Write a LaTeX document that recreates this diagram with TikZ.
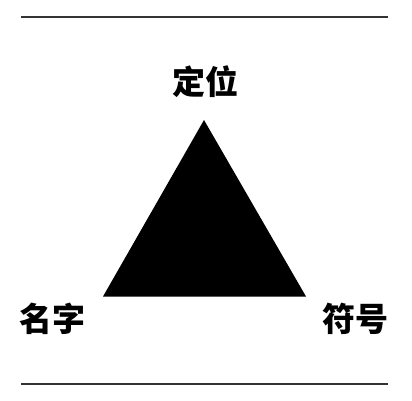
\documentclass[tikz,border=0pt]{standalone}
\usepackage{fontspec}
\newfontfamily\cjk{Noto Sans CJK SC}
\tikzset{
	word/.style={inner sep=0pt, font=\cjk\bfseries\fontsize{33}{33}\selectfont},
	rule/.style={line width=1.2pt, color=black!80}
}

\begin{document}
\begin{tikzpicture}[x=1pt, y=-1pt]
		%%%%% START %%%%%
		\useasboundingbox (0, 0) rectangle (412, 401);
		
		\draw[rule] (21, 17) -- (388, 17);
		\draw[rule] (21, 384) -- (388, 384);
		
		\coordinate (apex) at (204, 120);
		\coordinate (baseL) at (103, 296.5);
		\coordinate (baseR) at (306, 296.5);
		\fill[black] (apex) -- (baseL) -- (baseR) -- cycle;
		
		\node[word] (dingwei) at (205, 81.5) {定位};
		\node[word] (mingzi) at (52.5, 319) {名字};
		\node[word] (fuhao) at (355.5, 318.5) {符号};
		
		%%%%% END %%%%%
	\end{tikzpicture}
\end{document}
